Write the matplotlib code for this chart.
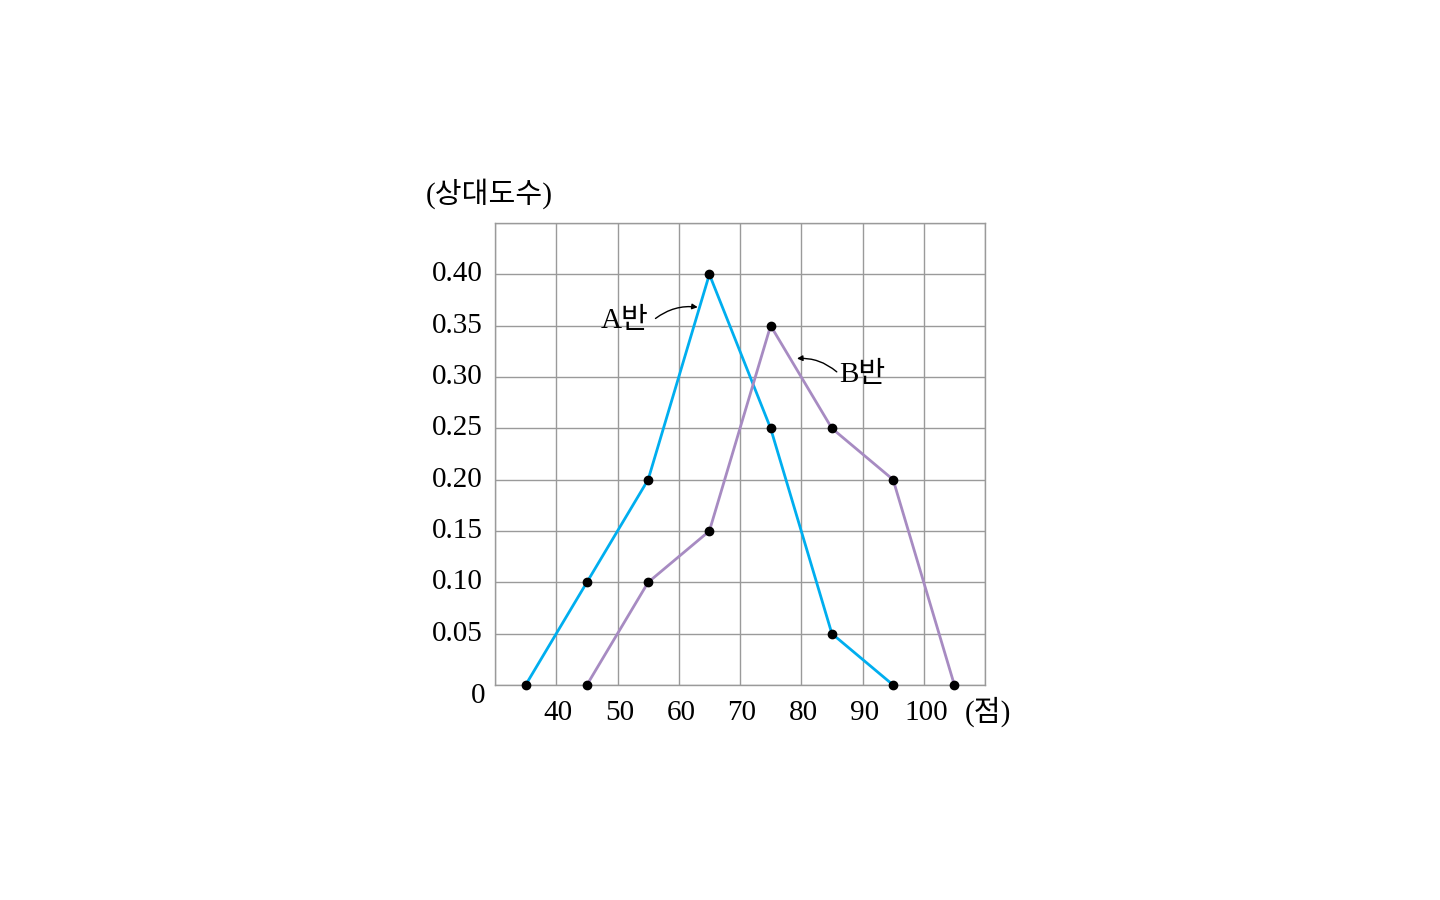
import matplotlib.pyplot as plt

# 점수 계급값과 상대도수
score_a = [35, 45, 55, 65, 75, 85, 95]
freq_a = [0, 0.10, 0.20, 0.40, 0.25, 0.05, 0]
score_b = [45, 55, 65, 75, 85, 95, 105]
freq_b = [0, 0.10, 0.15, 0.35, 0.25, 0.20, 0]

x_ticks = [40, 50, 60, 70, 80, 90, 100]
y_ticks = [0.05, 0.10, 0.15, 0.20, 0.25, 0.30, 0.35, 0.40]
y_labels = ["0.05", "0.10", "0.15", "0.20", "0.25", "0.30", "0.35", "0.40"]

fonts = ['Liberation Serif', 'Noto Sans CJK KR', 'DejaVu Sans']
plt.rcParams['font.family'] = fonts

fig = plt.figure(figsize=(14.4, 9), dpi=100)
ax = fig.add_axes([495 / 1440, 1 - 685 / 900, 490 / 1440, 462 / 900])

ax.set_xlim(30, 110)
ax.set_ylim(0, 0.45)
ax.set_xticks(range(30, 111, 10))
ax.set_yticks([i * 0.05 for i in range(10)])
ax.grid(True, color='#9a9a9a', linewidth=1)
ax.tick_params(length=0, labelbottom=False, labelleft=False)
for s in ax.spines.values():
    s.set_color('#9a9a9a')
    s.set_linewidth(1)

ax.plot(score_a, freq_a, color='#00aeef', linewidth=2, zorder=3, clip_on=False)
ax.plot(score_b, freq_b, color='#a78bc2', linewidth=2, zorder=3, clip_on=False)
ax.plot(score_a, freq_a, 'o', color='black', markersize=6, zorder=4, clip_on=False)
ax.plot(score_b, freq_b, 'o', color='black', markersize=6, zorder=4, clip_on=False)

fs = 21
for v, lab in zip(y_ticks, y_labels):
    ax.annotate(lab, xy=(0, v), xycoords=('axes fraction', 'data'),
                xytext=(-9, 0), textcoords='offset points',
                ha='right', va='center', fontsize=fs)
ax.annotate("0", xy=(0, 0), xycoords='axes fraction', xytext=(-7, -8),
            textcoords='offset points', ha='right', va='center', fontsize=fs)
for v in x_ticks:
    ax.annotate(str(v), xy=(v, 0), xycoords=('data', 'axes fraction'),
                xytext=(1.5, -20), textcoords='offset points',
                ha='center', va='center', fontsize=fs)
ax.annotate("(점)", xy=(1, 0), xycoords='axes fraction', xytext=(2, -19),
            textcoords='offset points', ha='center', va='center', fontsize=fs)
ax.annotate("(상대도수)", xy=(0, 1), xycoords='axes fraction', xytext=(-4, 21),
            textcoords='offset points', ha='center', va='center', fontsize=fs)

# 반 이름과 화살표
ax.text(51.2, 0.355, "A반", ha='center', va='center', fontsize=fs)
ax.annotate("", xy=(63.1, 0.368), xytext=(56.2, 0.357),
            arrowprops=dict(arrowstyle='-|>', color='black', lw=1,
                            mutation_scale=8,
                            connectionstyle='arc3,rad=-0.2',
                            shrinkA=0, shrinkB=0))
ax.text(89.9, 0.302, "B반", ha='center', va='center', fontsize=fs)
ax.annotate("", xy=(79.3, 0.318), xytext=(85.8, 0.305),
            arrowprops=dict(arrowstyle='-|>', color='black', lw=1,
                            mutation_scale=8,
                            connectionstyle='arc3,rad=0.2',
                            shrinkA=0, shrinkB=0))

fig.savefig("out.png")
